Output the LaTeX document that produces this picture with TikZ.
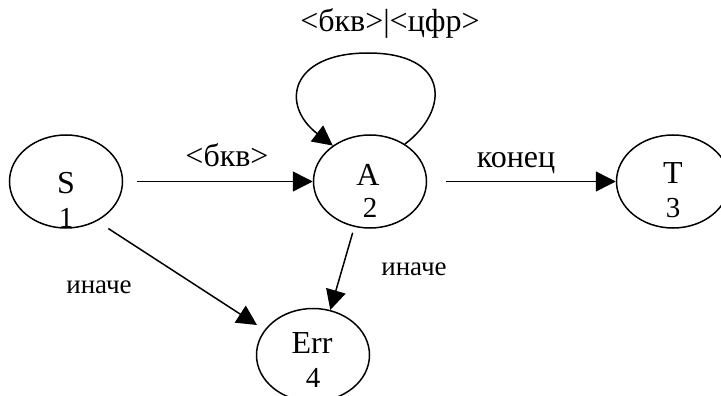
\documentclass[tikz,border=0pt]{standalone}
\usepackage{fontspec}
\setmainfont{Liberation Serif}
\usetikzlibrary{arrows.meta,shapes.geometric}
\begin{document}
\begin{tikzpicture}[x=1pt,y=-1pt,
  st/.style={draw, ellipse, line width=1.5pt, minimum width=113pt, minimum height=93pt, inner sep=0pt},
  arr/.style={line width=1.5pt, -{Triangle[length=20pt,width=20pt]}},
  nm/.style={font=\fontsize{32}{34}\selectfont, anchor=base, inner sep=0pt},
  nn/.style={font=\fontsize{29}{31}\selectfont, anchor=base, inner sep=0pt},
  lb/.style={font=\fontsize{32}{34}\selectfont, anchor=base, inner sep=0pt},
  ls/.style={font=\fontsize{27}{30}\selectfont, anchor=base, inner sep=0pt}]
\clip (0,0) rectangle (721,396);
% states
\node[st] (S) at (66,181.5) {};
\node[st] (A) at (370,181.5) {};
\node[st] (T) at (673,181.5) {};
\node[st] (Err) at (313,355) {};
% state texts
\node[nm] (Stxt) at (66,193) {S};
\node[nn] (Snum) at (66,227) {1};
\node[nm] (Atxt) at (368,185) {A};
\node[nn] (Anum) at (370,217) {2};
\node[nm] (Ttxt) at (673,183) {T};
\node[nn] (Tnum) at (673,217) {3};
\node[nm] (Etxt) at (312,353) {Err};
\node[nn] (Enum) at (313,387) {4};
% free ends
\coordinate (errS) at (257,325);
% connectors
\draw[arr, shorten <=14pt] (S) -- (A);
\draw[arr, shorten <=19pt] (A) -- (T);
\draw[arr, shorten <=6pt] (A.-109) -- (Err.69);
\draw[arr, shorten <=13.5pt] (S.-52) -- (errS);
\draw[arr] (A.47) .. controls (450,110) and (450,53) .. (368,53)
  .. controls (290,53) and (280,105) .. (A.136);
% labels
\node[lb] (l1) at (227,166) {<бкв>};
\node[lb] (l2) at (516,167) {конец};
\node[lb] (l3) at (390,32) {<бкв>|<цфр>};
\node[ls] (l4) at (414,275) {иначе};
\node[ls] (l5) at (99,293) {иначе};
\end{tikzpicture}
\end{document}
